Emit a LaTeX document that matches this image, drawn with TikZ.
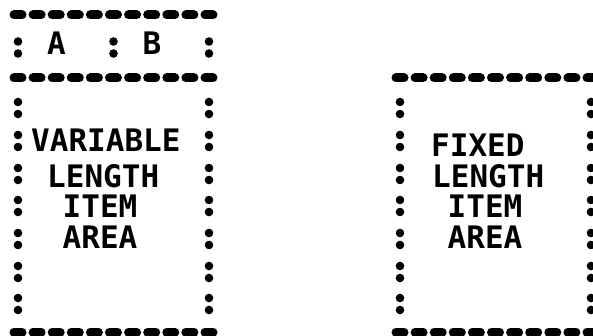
\documentclass[tikz,border=0pt]{standalone}
\usepackage{fontspec}
\setmonofont{DejaVu Sans Mono}
\usepackage{tikz}
\newcommand{\tcolon}[2]{\fill (#1,#2-6) circle (4.3pt); \fill (#1,#2+6) circle (4.3pt);}
\begin{document}
\begin{tikzpicture}[x=1pt,y=-1pt,
  dsh/.style={line width=9pt,line cap=round},
  lbl/.style={font=\fontsize{31}{31}\selectfont\ttfamily\bfseries,anchor=base west,inner sep=0pt}]
  \useasboundingbox[fill=white] (0,0) rectangle (593,336);
  % variable length box: header and body
  \foreach \y in {15,78,332}
    \foreach \k in {0,...,10}
      \draw[dsh] ({18+19.1*\k-4},\y) -- ({18+19.1*\k+4},\y);
  \foreach \x in {18,113.5,209} {\tcolon{\x}{47.5}}
  \foreach \y in {108,141,174,206,239,272,304} {\tcolon{18}{\y} \tcolon{209}{\y}}
  \node[lbl] (a) at (47,55) {A};
  \node[lbl] (b) at (142.5,55) {B};
  \node[lbl] (var) at (31,152) {VARIABLE};
  \node[lbl] (vlen) at (47,188) {LENGTH};
  \node[lbl] (vitem) at (62.5,218) {ITEM};
  \node[lbl] (varea) at (62.5,248) {AREA};
  % fixed length box
  \foreach \y in {78,332}
    \foreach \k in {0,...,10}
      \draw[dsh] ({400+19.1*\k-4},\y) -- ({400+19.1*\k+4},\y);
  \foreach \y in {108,141,174,206,239,272,304} {\tcolon{400}{\y} \tcolon{591}{\y}}
  \node[lbl] (fix) at (431,157) {FIXED};
  \node[lbl] (flen) at (432,188) {LENGTH};
  \node[lbl] (fitem) at (447.5,218) {ITEM};
  \node[lbl] (farea) at (447.5,248) {AREA};
\end{tikzpicture}
\end{document}
